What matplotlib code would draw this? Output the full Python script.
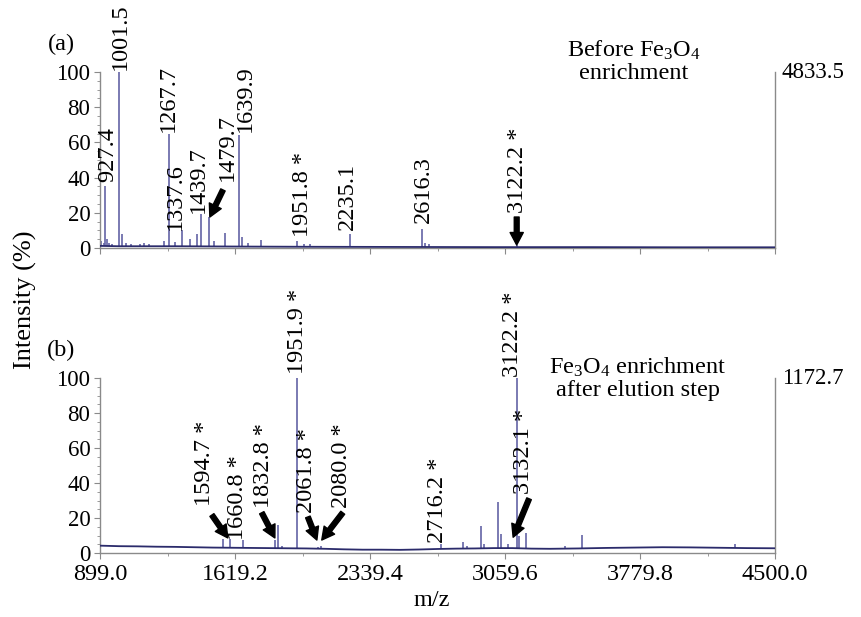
import numpy as np
import matplotlib
matplotlib.use('Agg')
import matplotlib.pyplot as plt
from matplotlib.ticker import MultipleLocator, FixedLocator

plt.rcParams['font.family'] = ['Liberation Serif', 'DejaVu Serif']
plt.rcParams['mathtext.fontset'] = 'custom'
plt.rcParams['mathtext.rm'] = 'Liberation Serif'
plt.rcParams['mathtext.it'] = 'Liberation Serif:italic'

# x range of the spectra
mz_min, mz_max = 899.0, 4500.0
xtick_vals = [899.0, 1619.2, 2339.4, 3059.6, 3779.8, 4500.0]

# (a) before enrichment - baseline and peaks (relative intensity %)
a_base_mz = [899, 1000, 1300, 1700, 2000, 2500, 3000, 3500, 4000, 4500]
a_base_int = [1.2, 1.0, 1.0, 0.8, 0.7, 0.6, 0.5, 0.5, 0.4, 0.4]
a_peak_mz = [905, 918, 927.4, 935, 945, 962, 1001.5, 1018, 1040, 1062, 1110, 1135,
             1160, 1240, 1267.7, 1299, 1337.6, 1379, 1415, 1439.7, 1479.7, 1507,
             1566, 1639.9, 1658, 1688, 1756, 1951.8, 1985, 2020, 2235.1, 2616.3,
             2632, 2655, 3122.2]
a_peak_int = [4, 3, 35, 5, 3, 2.5, 100, 8, 3, 2.5, 2, 3, 2, 4, 65, 3.4, 10.5, 5,
              7.8, 19.5, 17.5, 3.8, 8.7, 64, 6, 3, 4.4, 4, 2, 2, 8, 11, 3, 2, 1.5]

# (b) after elution step
b_base_mz = [899, 1000, 1100, 1200, 1300, 1400, 1500, 1600, 1700, 1800, 1900,
             2000, 2100, 2200, 2300, 2400, 2500, 2600, 2700, 2800, 2900, 3000,
             3100, 3200, 3300, 3450, 3600, 3750, 3900, 4050, 4200, 4350, 4500]
b_base_int = [4.2, 3.9, 3.8, 3.6, 3.5, 3.3, 3.1, 3.0, 2.9, 2.8, 2.7, 2.6, 2.4,
              2.1, 1.9, 1.9, 1.8, 2.0, 2.3, 2.5, 2.6, 2.8, 2.8, 2.5, 2.4, 2.6,
              2.9, 3.1, 3.3, 3.2, 3.0, 2.8, 2.7]
b_peak_mz = [1557, 1594.7, 1660.8, 1832.8, 1850, 1868, 1951.9, 2061.8, 2080.0,
             2716.2, 2837, 2855, 2932, 2945, 3024, 3038, 3077, 3122.2, 3132.1,
             3173, 3380, 3472, 4287]
b_peak_int = [8, 8, 7.2, 7.6, 16, 4, 100, 3.4, 4.2, 5.3, 6.4, 4, 15.5, 5, 29,
              10.8, 5, 100, 9.5, 11.7, 3.8, 10.4, 5]

# peak labels: text, x, y (bottom of rotated label)
a_lbl_text = ['927.4', '1001.5', '1267.7', '1337.6', '1439.7', '1479.7', '1639.9',
              '1951.8 *', '2235.1', '2616.3', '3122.2 *']
a_lbl_x = [942, 1006, 1262, 1300, 1422, 1576, 1673, 1977, 2217, 2622, 3124]
a_lbl_y = [37.5, 101, 66, 10, 20, 38, 66, 6, 10, 14, 20]

b_lbl_text = ['1594.7 *', '1660.8 *', '1832.8 *', '1951.9 *', '2061.8 *',
              '2080.0 *', '2716.2 *', '3122.2 *', '3132.1 *']
b_lbl_x = [1459, 1635, 1769, 1950, 2003, 2190, 2697, 3097, 3156]
b_lbl_y = [27, 7.4, 26, 102, 23, 25.7, 5.7, 100.6, 34]

# arrows: tail (x, y) -> tip (x, y)
a_arrows = [((1555, 33), (1485, 17.6)), ((3122, 17.6), (3122, 1.7))]
b_arrows = [((1496, 21.7), (1581, 8.6)), ((1762, 23), (1832, 8.6)),
            ((2008, 20.6), (2056, 7.4)), ((2194, 23), (2082, 7.4)),
            ((3188, 31), (3103, 9))]

base_color = '#2b2b6b'
peak_color = '#6464a6'
axis_color = '#8a8a8a'
fs = 17.5
fs_y = 16.5


def style_axis(ax, show_xlabels):
    ax.set_xlim(mz_min, mz_max)
    ax.set_ylim(0, 100)
    ax.spines['top'].set_visible(False)
    for s in ['left', 'bottom', 'right']:
        ax.spines[s].set_color(axis_color)
        ax.spines[s].set_linewidth(1.0)
    ax.xaxis.set_major_locator(FixedLocator(xtick_vals))
    mids = [(xtick_vals[i] + xtick_vals[i + 1]) / 2 for i in range(len(xtick_vals) - 1)]
    ax.xaxis.set_minor_locator(FixedLocator(mids))
    ax.yaxis.set_major_locator(MultipleLocator(20))
    ax.yaxis.set_minor_locator(MultipleLocator(5))
    ax.tick_params(which='both', direction='out', color=axis_color,
                   right=False, top=False)
    ax.tick_params(axis='x', labelsize=fs, pad=4)
    ax.tick_params(axis='y', labelsize=fs_y, pad=3)
    ax.tick_params(which='major', length=4)
    ax.tick_params(which='minor', length=2)
    if show_xlabels:
        ax.set_xticklabels(['%.1f' % v for v in xtick_vals])
    else:
        ax.set_xticklabels([])


def draw_spectrum(ax, base_mz, base_int, peak_mz, peak_int):
    base_at_peak = np.interp(peak_mz, base_mz, base_int)
    ax.vlines(peak_mz, base_at_peak, peak_int, color=peak_color, lw=1.2, zorder=2)
    ax.plot(base_mz, base_int, color=base_color, lw=1.3, zorder=3)


def draw_labels(ax, texts, xs, ys, arrows):
    for t, x, y in zip(texts, xs, ys):
        ax.text(x, y, t, rotation=90, ha='center', va='bottom', fontsize=fs,
                clip_on=False)
    for tail, tip in arrows:
        ax.annotate('', xy=tip, xytext=tail,
                    arrowprops=dict(arrowstyle='simple,head_width=0.95,head_length=0.9,tail_width=0.35',
                                    fc='black', ec='black', shrinkA=0, shrinkB=0))


fig = plt.figure(figsize=(8.61, 6.17), dpi=100)
ax1 = fig.add_axes([100 / 861, 1 - 248 / 617, 675 / 861, 176 / 617])
ax2 = fig.add_axes([100 / 861, 1 - 553 / 617, 675 / 861, 175 / 617])

style_axis(ax1, False)
style_axis(ax2, True)

draw_spectrum(ax1, a_base_mz, a_base_int, a_peak_mz, a_peak_int)
draw_spectrum(ax2, b_base_mz, b_base_int, b_peak_mz, b_peak_int)

draw_labels(ax1, a_lbl_text, a_lbl_x, a_lbl_y, a_arrows)
draw_labels(ax2, b_lbl_text, b_lbl_x, b_lbl_y, b_arrows)

# right side max intensity counts
ax1.text(1.01, 1.0, '4833.5', transform=ax1.transAxes, ha='left', va='center', fontsize=fs_y)
ax2.text(1.01, 1.0, '1172.7', transform=ax2.transAxes, ha='left', va='center', fontsize=fs_y)

# panel captions
ax1.text(0.79, 1.06, 'Before $\\mathrm{Fe_3O_4}$\nenrichment', transform=ax1.transAxes,
         ha='center', va='center', fontsize=fs, linespacing=1.05)
ax2.text(0.797, 1.0, '$\\mathrm{Fe_3O_4}$ enrichment\nafter elution step', transform=ax2.transAxes,
         ha='center', va='center', fontsize=fs, linespacing=1.05)

fig.text(61 / 861, 1 - 44 / 617, '(a)', ha='center', va='center', fontsize=fs)
fig.text(61 / 861, 1 - 350 / 617, '(b)', ha='center', va='center', fontsize=fs)

fig.text(25 / 861, 1 - 300 / 617, 'Intensity (%)', rotation=90, ha='center', va='center',
         fontsize=19)
fig.text(432 / 861, 1 - 600 / 617, 'm/z', ha='center', va='center', fontsize=fs)

fig.savefig('out.png', dpi=100)
